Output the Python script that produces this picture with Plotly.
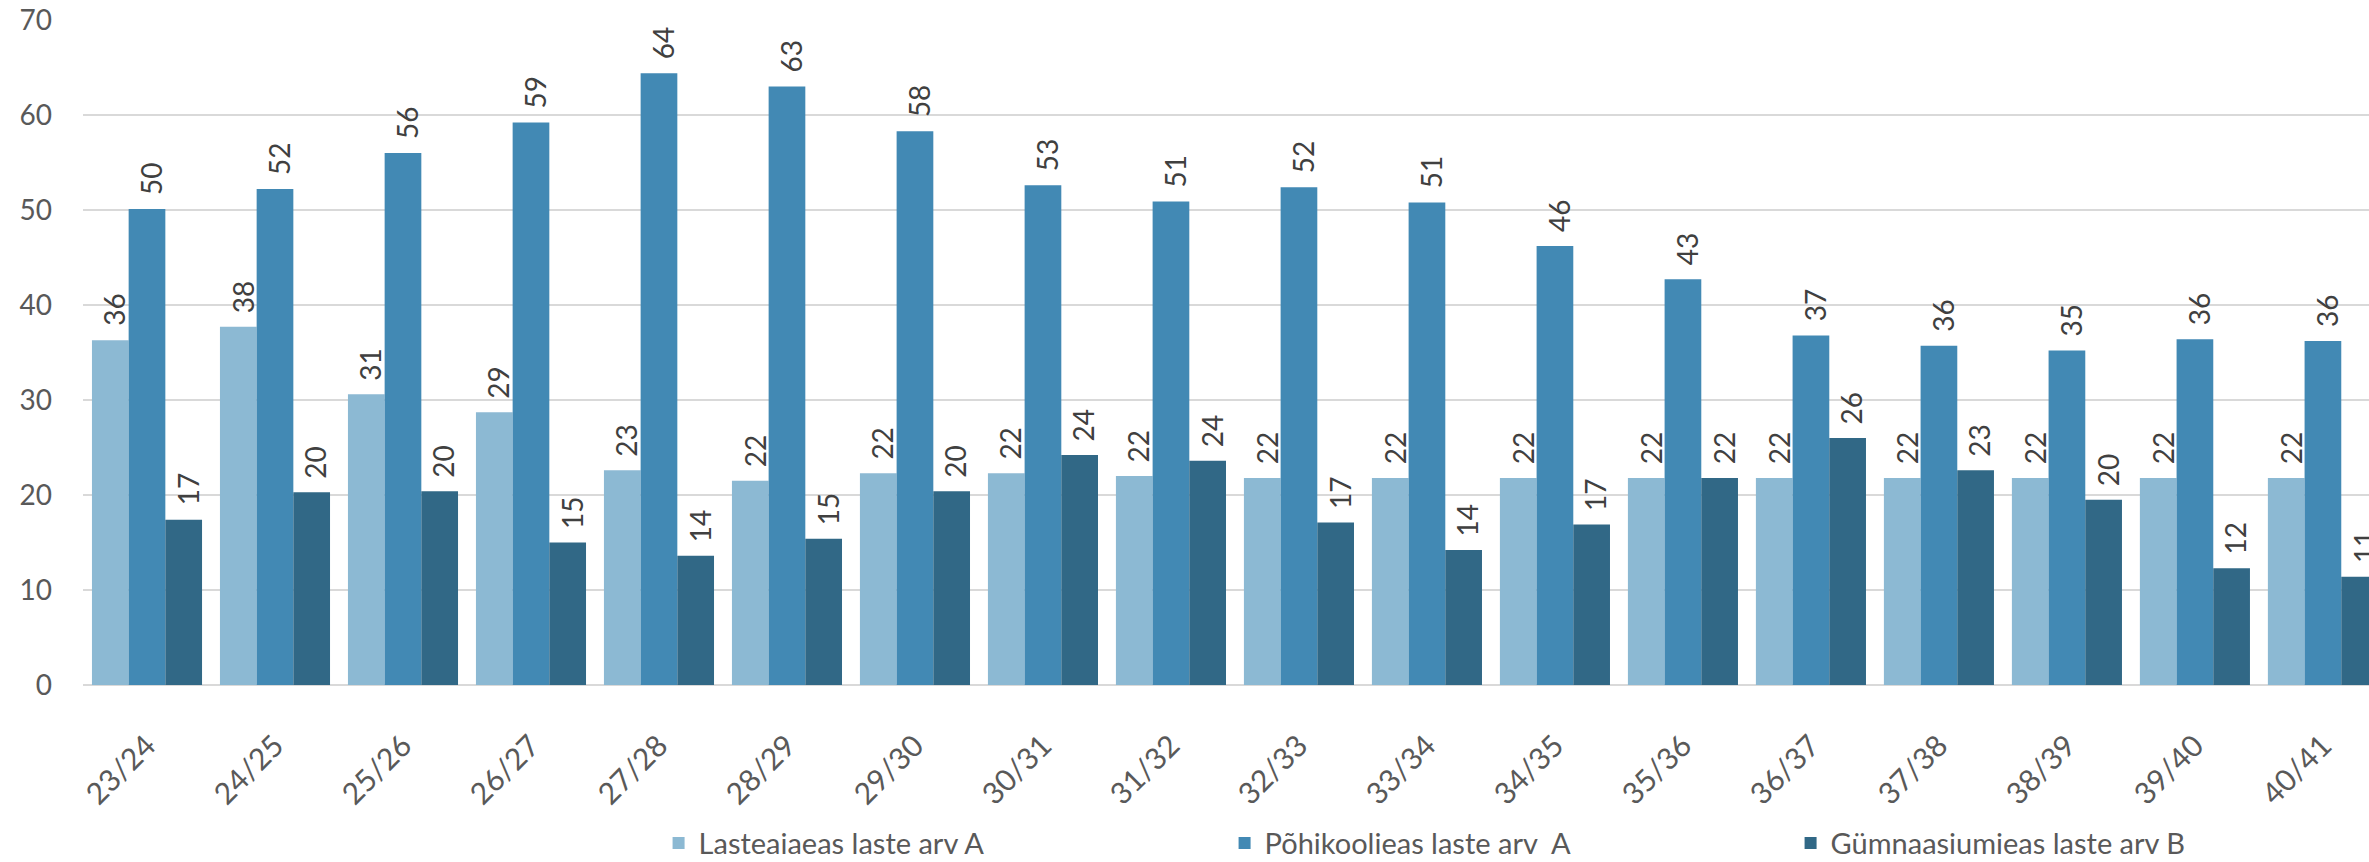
import plotly.graph_objects as go

# School years on the category axis
years = ["23/24", "24/25", "25/26", "26/27", "27/28", "28/29", "29/30", "30/31", "31/32",
         "32/33", "33/34", "34/35", "35/36", "36/37", "37/38", "38/39", "39/40", "40/41"]

# Child counts per age group
lasteaed = [36.3, 37.7, 30.6, 28.7, 22.6, 21.5, 22.3, 22.3, 22.0,
            21.8, 21.8, 21.8, 21.8, 21.8, 21.8, 21.8, 21.8, 21.8]
pohikool = [50.1, 52.2, 56.0, 59.2, 64.4, 63.0, 58.3, 52.6, 50.9,
            52.4, 50.8, 46.2, 42.7, 36.8, 35.7, 35.2, 36.4, 36.2]
gumnaasium = [17.4, 20.3, 20.4, 15.0, 13.6, 15.4, 20.4, 24.2, 23.6,
              17.1, 14.2, 16.9, 21.8, 26.0, 22.6, 19.5, 12.3, 11.4]

names = ["Lasteaiaeas laste arv A", "Põhikoolieas laste arv\u00a0\u00a0A", "Gümnaasiumieas laste arv B"]
colors = ["#8CB9D3", "#4289B4", "#316886"]
series = [lasteaed, pohikool, gumnaasium]

FONT = "Lato"
TEXT = "#595959"

fig = go.Figure()
for name, vals, col in zip(names, series, colors):
    fig.add_trace(go.Bar(x=years, y=vals, name=name, marker=dict(color=col, line=dict(width=0))))

# Rotated value labels above each bar
bar_px = 36.5
annotations = []
for i, vals in enumerate(series):
    for yr, v in zip(years, vals):
        annotations.append(dict(
            x=yr, y=v, xref="x", yref="y", text=f"{v:.0f}", showarrow=False,
            textangle=-90, yanchor="bottom", xanchor="center",
            xshift=(i - 1) * bar_px + 4, yshift=12,
            font=dict(family=FONT, size=28, color="#404040"),
        ))

fig.update_layout(
    width=2369, height=862,
    margin=dict(l=83, r=0, t=20, b=177, autoexpand=False),
    paper_bgcolor="white", plot_bgcolor="white",
    barmode="group", bargap=0.14, bargroupgap=0,
    font=dict(family=FONT, size=28, color=TEXT),
    annotations=annotations,
    showlegend=True,
    legend=dict(
        orientation="h", xref="container", yref="paper",
        x=0.278, xanchor="left", y=-0.238, yanchor="middle",
        entrywidth=521, entrywidthmode="pixels",
        font=dict(family=FONT, size=29, color=TEXT),
        itemwidth=30, bgcolor="rgba(0,0,0,0)",
    ),
    xaxis=dict(
        range=[-0.5, 17.36], tickangle=-45, showgrid=False, showline=False,
        ticks="", ticklabelstandoff=36,
        tickfont=dict(family=FONT, size=30, color=TEXT),
    ),
    yaxis=dict(
        range=[0, 70], dtick=10, showgrid=True, gridcolor="#D9D9D9", gridwidth=2,
        zeroline=True, zerolinecolor="#D9D9D9", zerolinewidth=2,
        showline=False, ticks="", ticklabelstandoff=30,
        tickfont=dict(family=FONT, size=28, color=TEXT),
    ),
)

fig.write_html("out.html")
